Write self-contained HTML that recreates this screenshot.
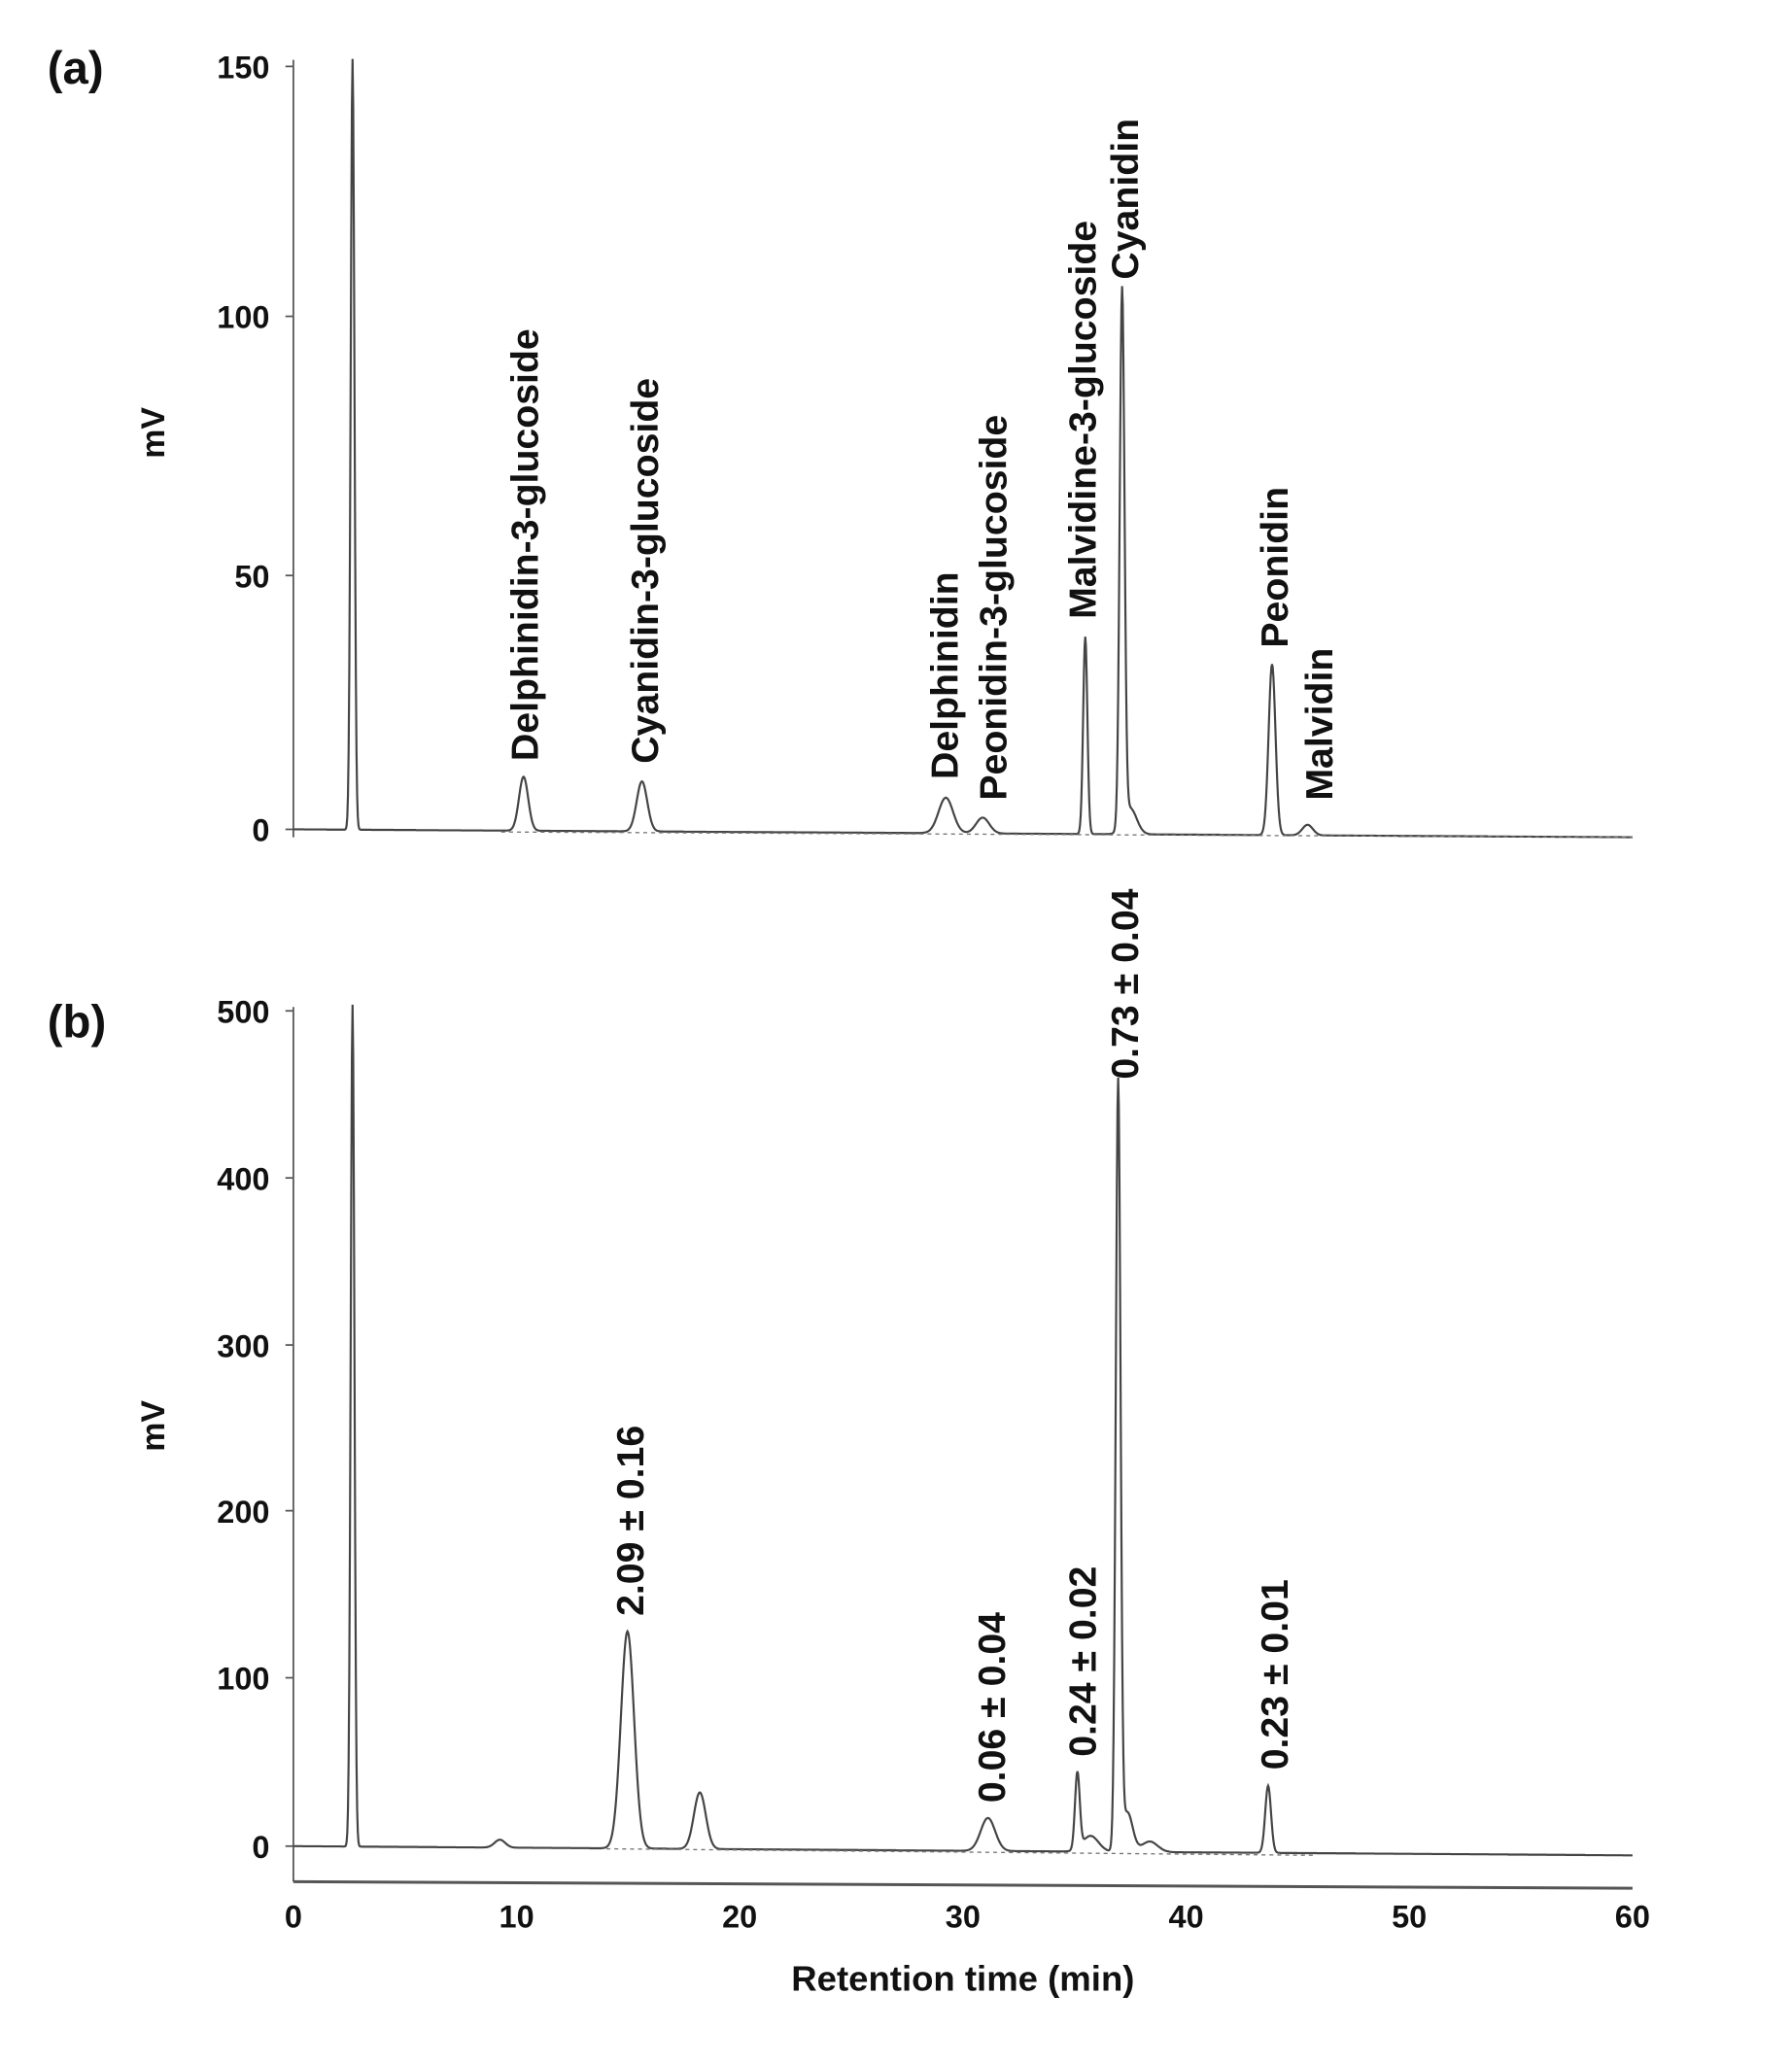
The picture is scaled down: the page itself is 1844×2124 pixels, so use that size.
<!DOCTYPE html>
<html><head><meta charset="utf-8"><style>
html,body{margin:0;padding:0;background:#fff;}
svg{display:block;}
text{font-family:"Liberation Sans",Arial,sans-serif;font-weight:bold;fill:#111;}
</style></head><body>
<svg id="s" width="1844" height="2124" viewBox="0 0 1350 1555" xmlns="http://www.w3.org/2000/svg">
<g transform="translate(1,0.5) scale(0.991)">
<g stroke="#555" stroke-width="1.3" fill="none">
<line x1="222" y1="45" x2="222" y2="636"/>
<line x1="216" y1="50" x2="222" y2="50"/><line x1="216" y1="240" x2="222" y2="240"/><line x1="216" y1="437" x2="222" y2="437"/><line x1="216" y1="630" x2="222" y2="630"/>
<line x1="222" y1="765" x2="222" y2="1430"/>
<line x1="222" y1="1430" x2="1240" y2="1435" stroke-width="2.2"/>
<line x1="216" y1="768" x2="222" y2="768"/><line x1="216" y1="895" x2="222" y2="895"/><line x1="216" y1="1022" x2="222" y2="1022"/><line x1="216" y1="1148" x2="222" y2="1148"/><line x1="216" y1="1275" x2="222" y2="1275"/><line x1="216" y1="1403" x2="222" y2="1403"/>
</g>
<path id="pa" stroke="#444" stroke-width="1.6" fill="none"/>
<path id="pb" stroke="#444" stroke-width="1.6" fill="none"/>
<g stroke="#777" stroke-width="1" stroke-dasharray="3,3">
<line x1="380" y1="632" x2="1240" y2="636"/>
<line x1="460" y1="1405" x2="1000" y2="1410"/>
</g>
<text x="35" y="63" font-size="35">(a)</text>
<text x="35" y="788" font-size="35">(b)</text>
<g font-size="24" text-anchor="end">
<text x="204" y="59">150</text><text x="204" y="249">100</text><text x="204" y="446">50</text><text x="204" y="639">0</text>
<text x="204" y="777">500</text><text x="204" y="904">400</text><text x="204" y="1031">300</text><text x="204" y="1157">200</text><text x="204" y="1284">100</text><text x="204" y="1412">0</text>
</g>
<g font-size="24" text-anchor="middle">
<text x="222" y="1465">0</text><text x="391.7" y="1465">10</text><text x="561.3" y="1465">20</text><text x="731" y="1465">30</text><text x="900.7" y="1465">40</text><text x="1070.3" y="1465">50</text><text x="1240" y="1465">60</text>
<text x="731" y="1513" font-size="27">Retention time (min)</text>
</g>
<g font-size="25">
<text transform="translate(124,348) rotate(-90)">mV</text>
<text transform="translate(124,1103) rotate(-90)">mV</text>
</g>
<g font-size="29">
<text transform="translate(408,578) rotate(-90)">Delphinidin-3-glucoside</text>
<text transform="translate(499,580) rotate(-90)">Cyanidin-3-glucoside</text>
<text transform="translate(727,592) rotate(-90)">Delphinidin</text>
<text transform="translate(764,608) rotate(-90)">Peonidin-3-glucoside</text>
<text transform="translate(832,470) rotate(-90)">Malvidine-3-glucoside</text>
<text transform="translate(864,212) rotate(-90)">Cyanidin</text>
<text transform="translate(978,492) rotate(-90)">Peonidin</text>
<text transform="translate(1012,608) rotate(-90)">Malvidin</text>
<text transform="translate(488,1228) rotate(-90)">2.09 ± 0.16</text>
<text transform="translate(763,1370) rotate(-90)">0.06 ± 0.04</text>
<text transform="translate(832,1335) rotate(-90)">0.24 ± 0.02</text>
<text transform="translate(864,820) rotate(-90)">0.73 ± 0.04</text>
<text transform="translate(978,1345) rotate(-90)">0.23 ± 0.01</text>
</g>
</g>
</svg>
<script>
function trace(id,y0,y1,peaks){
 var d="";for(var x=222;x<=1240;x+=0.5){
  var y=y0+(y1-y0)*(x-222)/1018;
  for(var i=0;i<peaks.length;i++){var p=peaks[i];var u=(x-p[0])/p[2];y-=p[1]*Math.exp(-u*u/2);}
  d+=(d?"L":"M")+x.toFixed(1)+","+y.toFixed(1);
 }
 document.getElementById(id).setAttribute("d",d);
}
trace("pa",630,636,[[267,586,1.4],[397,41,3.5],[487,38,4],[718,27,5.5],[746,12,5],[824,150,1.6],[852,407,1.8],[858,20,5],[966,130,2.6],[993,8,4]]);
trace("pb",1403,1410,[[267,640,1.4],[379,6,4],[476,165,5],[531,43,4.5],[750,25,5.5],[818,58,1.8],[828,12,6],[849,582,1.8],[856,30,4],[873,8,6],[963,51,2.2]]);
</script>
</body></html>
